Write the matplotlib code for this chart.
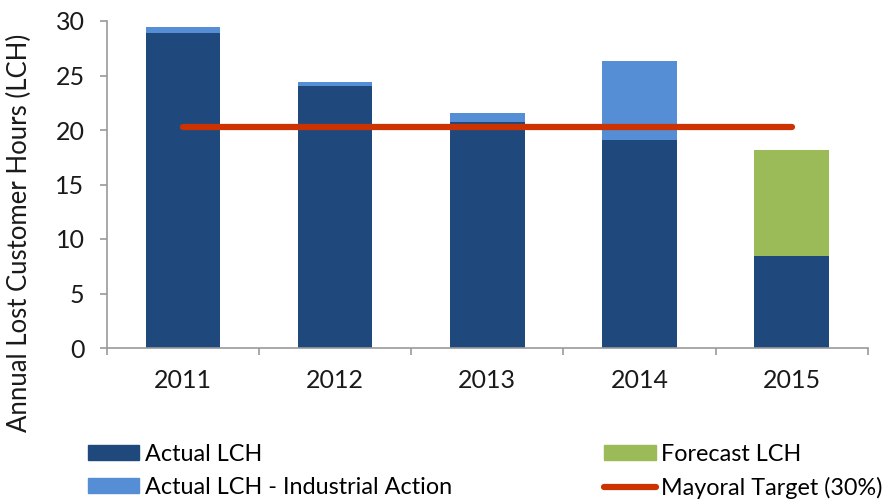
import numpy as np
import matplotlib.pyplot as plt
from matplotlib.patches import Patch
from matplotlib.lines import Line2D

plt.rcParams['font.family'] = ['Lato', 'DejaVu Sans']

years = ['2011', '2012', '2013', '2014', '2015']
actual = [28.9, 24.05, 20.75, 19.1, 8.4]
industrial = [0.55, 0.35, 0.85, 7.25, 0.0]
forecast = [0.0, 0.0, 0.0, 0.0, 9.8]
target = 20.3

c_actual = '#1F497D'
c_ia = '#558ED5'
c_fc = '#9BBB59'
c_target = '#CC3300'

fig = plt.figure(figsize=(8.9, 5), dpi=100)
ax = fig.add_axes([0.120, 0.304, 0.855, 0.654])

x = np.arange(len(years))
w = 0.49
ax.bar(x, actual, w, color=c_actual, zorder=2)
ax.bar(x, industrial, w, bottom=actual, color=c_ia, zorder=2)
ax.bar(x, forecast, w, bottom=actual, color=c_fc, zorder=2)
ax.plot([x[0], x[-1]], [target, target], color=c_target, lw=4.5,
        solid_capstyle='round', zorder=3)

ax.set_xlim(-0.5, len(years) - 0.5)
ax.set_ylim(0, 30)
ax.set_yticks(range(0, 31, 5))
ax.set_xticks(x)
ax.set_xticklabels(years)
ax.set_xticks(np.arange(-0.5, len(years)), minor=True)

for s in ['top', 'right']:
    ax.spines[s].set_visible(False)
for s in ['left', 'bottom']:
    ax.spines[s].set_color('#9A9A9A')
    ax.spines[s].set_linewidth(1.2)

ax.tick_params(axis='y', direction='out', length=5, width=1.2, color='#9A9A9A',
               pad=11, labelsize=18, labelcolor='#1a1a1a')
ax.tick_params(axis='x', which='major', length=0, pad=15, labelsize=18,
               labelcolor='#1a1a1a')
ax.tick_params(axis='x', which='minor', direction='out', length=5, width=1.2,
               color='#9A9A9A')

fig.text(0.022, 0.535, 'Annual Lost Customer Hours (LCH)', rotation=90,
         ha='center', va='center', fontsize=18.5, color='#1a1a1a')

h1 = [Patch(color=c_actual, label='Actual LCH'),
      Patch(color=c_ia, label='Actual LCH - Industrial Action')]
h2 = [Patch(color=c_fc, label='Forecast LCH'),
      Line2D([], [], color=c_target, lw=4.5, solid_capstyle='round',
             label='Mayoral Target (30%)')]
common = dict(frameon=False, fontsize=16.8, handlelength=2.2, handleheight=0.6,
              handletextpad=0.22, labelspacing=0.5, borderaxespad=0,
              borderpad=0)
fig.legend(handles=h1, loc='upper left', bbox_to_anchor=(0.099, 0.112), **common)
fig.legend(handles=h2, loc='upper left', bbox_to_anchor=(0.679, 0.112), **common)

fig.savefig('out.png', dpi=100)
